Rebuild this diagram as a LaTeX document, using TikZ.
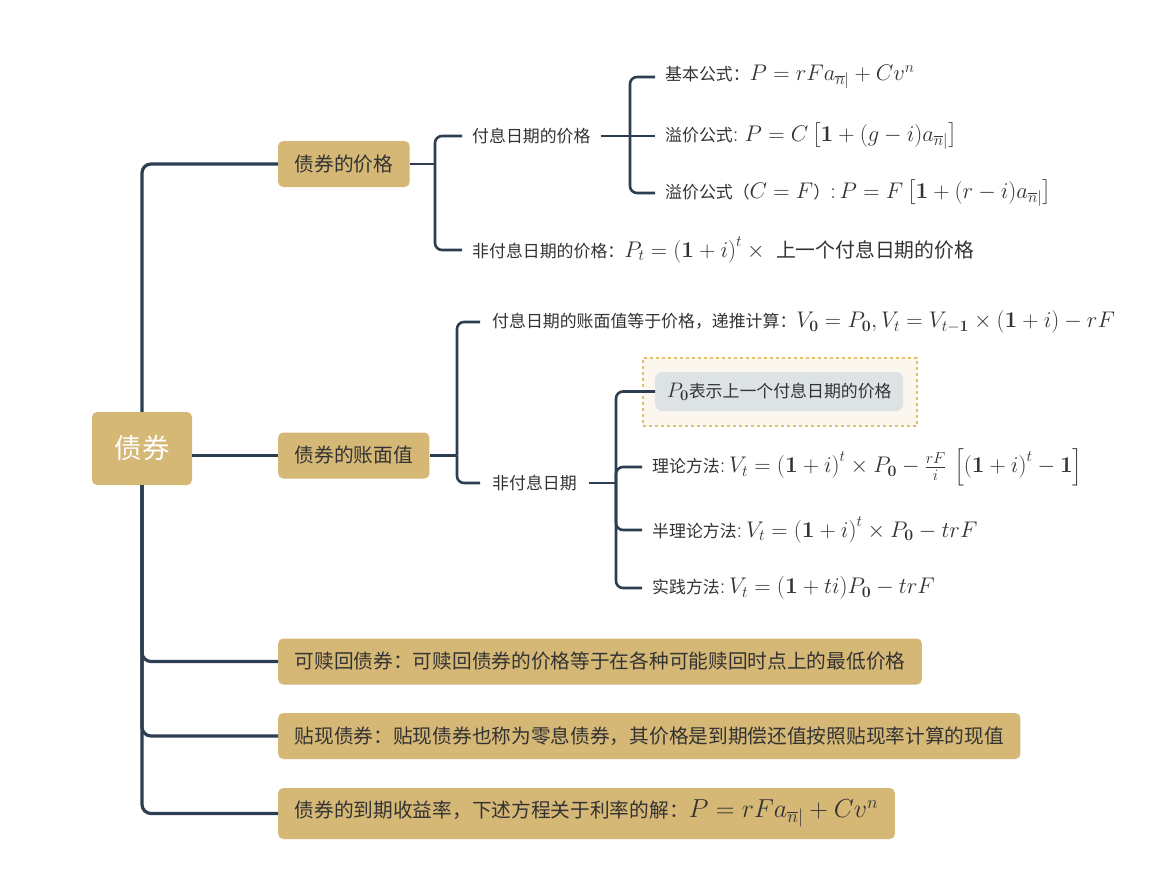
\RequirePackage{fix-cm}
\documentclass[tikz,border=0pt]{standalone}
\usepackage{amsmath}
\usepackage[no-math]{fontspec}
\setmainfont{Noto Sans CJK SC}
\usetikzlibrary{positioning}
\definecolor{gold}{HTML}{D5B776}
\definecolor{navy}{HTML}{2C3E50}
\definecolor{txt}{HTML}{333333}
\definecolor{notefill}{HTML}{FBF6EE}
\definecolor{noteedge}{HTML}{E2BE68}
\definecolor{grayfill}{HTML}{DDE2E4}
\newcommand{\mf}[2]{{\fontsize{#1}{#1}\selectfont$#2$}}
\newcommand{\bo}{\mathbf{(1}+i\mathbf{)}}
\newcommand{\an}{a_{\overline{n}|}}
\begin{document}
\begin{tikzpicture}[x=1pt,y=-1pt,
  conn/.style={draw=navy,line width=3.2pt,rounded corners=9pt},
  subconn/.style={draw=navy,line width=2.6pt,rounded corners=7pt},
  rootbox/.style={fill=gold,rounded corners=5pt,text=white,minimum width=100pt,minimum height=73pt,font=\fontsize{27.5}{30}\selectfont,inner sep=0pt},
  goldbox/.style={fill=gold,rounded corners=5pt,text=txt,minimum height=46pt,inner xsep=16.5pt,font=\fontsize{19.7}{23}\selectfont,anchor=west},
  leaf/.style={text=txt,inner xsep=10pt,inner ysep=2pt,font=\fontsize{16.9}{20}\selectfont,anchor=west}
]
\useasboundingbox (0,0) rectangle (1176,876);
\fill[white] (0,0) rectangle (1176,876);

% main nodes
\node[rootbox] (root) at (142,448.5) {债券};
\node[goldbox] (price) at (278,164) {债券的价格};
\node[goldbox] (val) at (278,455.5) {债券的账面值};
\node[goldbox] (call) at (278,661.5) {可赎回债券：可赎回债券的价格等于在各种可能赎回时点上的最低价格};
\node[goldbox] (disc) at (278,736) {贴现债券：贴现债券也称为零息债券，其价格是到期偿还值按照贴现率计算的现值};
\node[goldbox,minimum height=51pt] (ytm) at (278,813.5) {债券的到期收益率，下述方程关于利率的解：\mf{26}{P = rF\an + Cv^n}};

% price children
\node[leaf] (pd) at (462,136) {付息日期的价格};
\node[leaf] (npd) at (462,250) {非付息日期的价格：\mf{22.6}{P_t = \bo^t \times{}\;}{\fontsize{19.8}{22}\selectfont 上一个付息日期的价格}};
\node[leaf] (f1) at (655,77) {基本公式：\mf{22.6}{P = rF\an + Cv^n}};
\node[leaf] (f2) at (655,136) {溢价公式\mf{22.6}{\mathbf{:}\;P = C\left[\mathbf{1} + (g-i)\an\right]}};
\node[leaf] (f3) at (655,193) {溢价公式（\mf{22.6}{C=F}）\mf{22.6}{\mathbf{:}\,P = F\left[\mathbf{1} + (r-i)\an\right]}};

% value children
\node[leaf,inner xsep=12pt] (vd) at (480,322) {付息日期的账面值等于价格，递推计算：\mf{22.6}{V_{\mathbf{0}} = P_{\mathbf{0}}, V_t = V_{t-\mathbf{1}} \times \bo - rF}};
\node[leaf,inner xsep=12pt] (nvd) at (480,483) {非付息日期};

% note
\node[draw=noteedge,dashed,line width=2pt,fill=notefill,minimum width=274pt,minimum height=68pt,anchor=west] (noteout) at (642,392) {};
\node[fill=grayfill,rounded corners=7pt,text=txt,minimum width=248pt,minimum height=39pt,font=\fontsize{16.9}{20}\selectfont,anchor=west] (note) at (655,391.5) {\mf{21}{P_{\mathbf{0}}}表示上一个付息日期的价格};

\node[leaf] (m1) at (642,467) {理论方法\mf{22.6}{\mathbf{:}\,V_t = \bo^t \times P_{\mathbf{0}} - \tfrac{rF}{i}\,\left[\bo^t - \mathbf{1}\right]}};
\node[leaf] (m2) at (642,530) {半理论方法\mf{22.6}{\mathbf{:}\,V_t = \bo^t \times P_{\mathbf{0}} - trF}};
\node[leaf] (m3) at (642,588) {实践方法\mf{22.6}{\mathbf{:}\,V_t = \mathbf{(1}+ti\mathbf{)}P_{\mathbf{0}} - trF}};

% connectors from root
\draw[conn] (root.north) |- (price.west);
\draw[conn] (root.east |- val.west) -- (val.west);
\draw[conn] (root.south) |- (call.west);
\draw[conn] (root.south) |- (disc.west);
\draw[conn] (root.south) |- (ytm.west);

% price branches
\coordinate (pj) at (435,164);
\draw[subconn] (price.east) -- (pj);
\draw[subconn] (pj) |- (pd.west);
\draw[subconn] (pj) |- (npd.west);
\coordinate (pdj) at (630,136);
\draw[subconn] (pd.east) -- (pdj);
\draw[subconn] (pdj) |- (f1.west);
\draw[subconn] (pdj) -- (f2.west);
\draw[subconn] (pdj) |- (f3.west);

% value branches
\coordinate (vj) at (457,455.5);
\draw[subconn] (val.east) -- (vj);
\draw[subconn] (vj) |- (vd.west);
\draw[subconn] (vj) |- (nvd.west);
\coordinate (nvj) at (616,483);
\draw[subconn] (nvd.east) -- (nvj);
\draw[subconn] (nvj) |- (note.west);
\draw[subconn] (nvj) |- (m1.west);
\draw[subconn] (nvj) |- (m2.west);
\draw[subconn] (nvj) |- (m3.west);
\end{tikzpicture}
\end{document}
